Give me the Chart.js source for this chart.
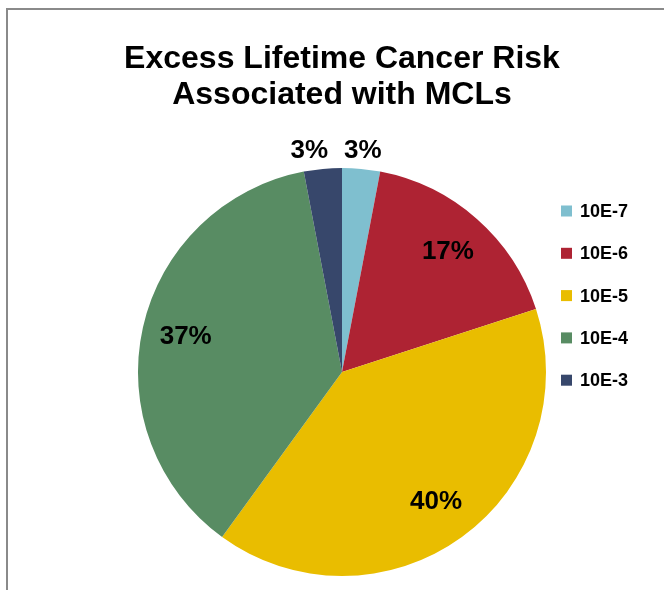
<!DOCTYPE html>
<html>
<head>
<meta charset="utf-8">
<title>Excess Lifetime Cancer Risk</title>
<script src="https://cdn.jsdelivr.net/npm/chart.js@4/dist/chart.umd.min.js"></script>
<style>
  html, body { margin: 0; padding: 0; background: #fff; overflow: hidden; }
  #wrap { position: relative; width: 664px; height: 590px; overflow: hidden; }
  /* chart frame, right and bottom edges run off the page */
  #frame { position: absolute; left: 6px; top: 8px; width: 720px; height: 640px; border: 2px solid #8a8a8a; }
  #pie { position: absolute; left: 0; top: 0; }
</style>
</head>
<body>
<div id="wrap">
  <div id="frame"></div>
  <canvas id="pie" width="664" height="590"></canvas>
</div>
<script>
const riskLevels = ['10E-7', '10E-6', '10E-5', '10E-4', '10E-3'];
const riskShares = [3, 17, 40, 37, 3];
const sliceColors = ['#7fbfcf', '#ae2333', '#e9bd00', '#588c63', '#37476b'];
const chartTitle = ['Excess Lifetime Cancer Risk', 'Associated with MCLs'];

const FONT = '"Liberation Sans", Arial, Helvetica, sans-serif';

// percentage labels: inside for big slices, just outside the rim for small ones
const sliceLabels = {
  id: 'sliceLabels',
  afterDatasetsDraw(chart) {
    const ctx = chart.ctx;
    const meta = chart.getDatasetMeta(0);
    const values = chart.data.datasets[0].data;
    const total = values.reduce((a, b) => a + b, 0);
    ctx.save();
    ctx.font = 'bold 26px ' + FONT;
    ctx.fillStyle = '#000';
    ctx.textAlign = 'center';
    ctx.textBaseline = 'middle';

    const labels = meta.data.map((arc, i) => {
      const p = arc.getProps(['x', 'y', 'startAngle', 'endAngle', 'outerRadius'], true);
      const pct = Math.round(values[i] / total * 100);
      const mid = (p.startAngle + p.endAngle) / 2;
      const outside = pct < 5;
      const r = outside ? p.outerRadius + 18 : p.outerRadius * 0.785;
      const text = pct + '%';
      return { text, outside, w: ctx.measureText(text).width,
               x: p.x + Math.cos(mid) * r, y: p.y + Math.sin(mid) * r };
    });

    // keep neighbouring outside labels from crowding each other
    const outer = labels.filter(l => l.outside).sort((a, b) => a.x - b.x);
    for (let i = 1; i < outer.length; i++) {
      const a = outer[i - 1], b = outer[i];
      if (Math.abs(a.y - b.y) > 30) continue;
      const gap = (b.x - b.w / 2) - (a.x + a.w / 2);
      if (gap < 16) a.x -= 16 - gap;
    }

    labels.forEach(l => ctx.fillText(l.text, l.x, l.y));
    ctx.restore();
  }
};

// legend column to the right of the pie
const sideLegend = {
  id: 'sideLegend',
  afterDraw(chart) {
    const ctx = chart.ctx;
    const colors = chart.data.datasets[0].backgroundColor;
    const x = 561, y0 = 211, step = 42.3, box = 11;
    ctx.save();
    ctx.font = 'bold 18px ' + FONT;
    ctx.textAlign = 'left';
    ctx.textBaseline = 'middle';
    chart.data.labels.forEach((label, i) => {
      const y = y0 + i * step;
      ctx.fillStyle = colors[i];
      ctx.fillRect(x, y - box / 2, box, box);
      ctx.fillStyle = '#000';
      ctx.fillText(label, x + 19, y + 1);
    });
    ctx.restore();
  }
};

new Chart(document.getElementById('pie'), {
  type: 'pie',
  data: {
    labels: riskLevels,
    datasets: [{
      data: riskShares,
      backgroundColor: sliceColors,
      borderWidth: 0
    }]
  },
  options: {
    responsive: false,
    animation: false,
    devicePixelRatio: 1,
    layout: { padding: { left: 20, right: 0, top: 0, bottom: 14 } },
    plugins: {
      legend: { display: false },
      tooltip: { enabled: false },
      title: {
        display: true,
        text: chartTitle,
        color: '#000',
        font: { family: FONT, size: 32, weight: 'bold', lineHeight: 1.125 },
        padding: { top: 41.5, bottom: 54.5 }
      }
    }
  },
  plugins: [sliceLabels, sideLegend]
});
</script>
</body>
</html>
